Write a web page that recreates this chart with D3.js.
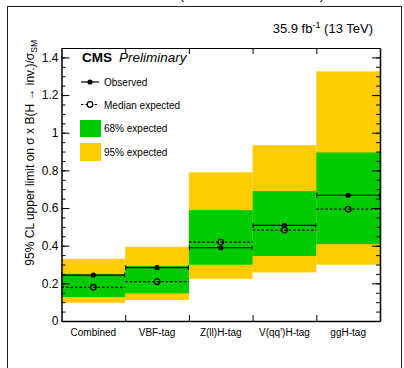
<!DOCTYPE html>
<html>
<head>
<meta charset="utf-8">
<script src="https://cdn.jsdelivr.net/npm/d3@7"></script>
<style>
  body { margin: 0; background: #fff; }
  svg { display: block; font-family: "Liberation Sans", Arial, sans-serif; }
</style>
</head>
<body>
<svg id="chart" width="404" height="368"></svg>
<script>
// categories and limits
var categories = ['Combined', 'VBF-tag', 'Z(ll)H-tag', "V(qq')H-tag", 'ggH-tag'];
var observed   = [0.244, 0.283, 0.389, 0.508, 0.668];
var expected   = [0.179, 0.209, 0.419, 0.483, 0.594];
var band68Lo   = [0.127, 0.147, 0.299, 0.345, 0.408];
var band68Hi   = [0.248, 0.292, 0.589, 0.690, 0.895];
var band95Lo   = [0.097, 0.111, 0.224, 0.258, 0.299];
var band95Hi   = [0.330, 0.394, 0.790, 0.934, 1.326];
var yTicks     = [0, 0.2, 0.4, 0.6, 0.8, 1, 1.2, 1.4];

(function() {
var svg = d3.select('#chart');

var pLeft = 61.5, pRight = 380, pTop = 48, pBottom = 321;

var x = d3.scaleBand().domain(categories).range([pLeft, pRight]).padding(0);
var xEdge = d3.scaleLinear().domain([0, categories.length]).range([pLeft, pRight]);
var y = d3.scaleLinear().domain([0, 1.45]).range([pBottom, pTop]);

// outer frame
svg.append('rect')
  .attr('x', 7.5).attr('y', 6.5)
  .attr('width', 394).attr('height', 380)
  .attr('fill', 'none').attr('stroke', '#222').attr('stroke-width', 1);

// cut off caption at the very top (only the bottoms of the brackets show)
svg.append('text')
  .attr('x', 252).attr('y', -1.2)
  .attr('text-anchor', 'middle')
  .style('font-size', '13.5px')
  .text('(CMS-PAS-HIG-17-023)');

var data = categories.map(function(c, i) {
  return { cat: c, obs: observed[i], exp: expected[i],
    lo68: band68Lo[i], hi68: band68Hi[i], lo95: band95Lo[i], hi95: band95Hi[i] };
});

// bands
svg.selectAll('.b95').data(data).enter().append('rect')
  .attr('class', 'b95')
  .attr('x', function(d) { return x(d.cat); })
  .attr('width', x.bandwidth())
  .attr('y', function(d) { return y(d.hi95); })
  .attr('height', function(d) { return y(d.lo95) - y(d.hi95); })
  .attr('fill', '#ffcc00');

svg.selectAll('.b68').data(data).enter().append('rect')
  .attr('class', 'b68')
  .attr('x', function(d) { return x(d.cat); })
  .attr('width', x.bandwidth())
  .attr('y', function(d) { return y(d.hi68); })
  .attr('height', function(d) { return y(d.lo68) - y(d.hi68); })
  .attr('fill', '#00cc00');

// expected: dashed line + open circle
svg.selectAll('.expl').data(data).enter().append('line')
  .attr('x1', function(d) { return x(d.cat); })
  .attr('x2', function(d) { return x(d.cat) + x.bandwidth(); })
  .attr('y1', function(d) { return y(d.exp); })
  .attr('y2', function(d) { return y(d.exp); })
  .attr('stroke', '#000').attr('stroke-width', 1.2)
  .attr('stroke-dasharray', '2.5,2');

// observed: solid line with end caps + filled circle
var obs = svg.selectAll('.obs').data(data).enter().append('g');
obs.append('line')
  .attr('x1', function(d) { return x(d.cat); })
  .attr('x2', function(d) { return x(d.cat) + x.bandwidth(); })
  .attr('y1', function(d) { return y(d.obs); })
  .attr('y2', function(d) { return y(d.obs); })
  .attr('stroke', '#000').attr('stroke-width', 1.2);
obs.append('line')
  .attr('x1', function(d) { return x(d.cat) + 0.5; })
  .attr('x2', function(d) { return x(d.cat) + 0.5; })
  .attr('y1', function(d) { return y(d.obs) - 2.5; })
  .attr('y2', function(d) { return y(d.obs) + 2.5; })
  .attr('stroke', '#000').attr('stroke-width', 1);
obs.append('line')
  .attr('x1', function(d) { return x(d.cat) + x.bandwidth() - 0.5; })
  .attr('x2', function(d) { return x(d.cat) + x.bandwidth() - 0.5; })
  .attr('y1', function(d) { return y(d.obs) - 2.5; })
  .attr('y2', function(d) { return y(d.obs) + 2.5; })
  .attr('stroke', '#000').attr('stroke-width', 1);

svg.selectAll('.expm').data(data).enter().append('circle')
  .attr('cx', function(d) { return x(d.cat) + x.bandwidth() / 2; })
  .attr('cy', function(d) { return y(d.exp); })
  .attr('r', 2.8)
  .attr('fill', 'none').attr('stroke', '#000').attr('stroke-width', 1.3);

obs.append('circle')
  .attr('cx', function(d) { return x(d.cat) + x.bandwidth() / 2; })
  .attr('cy', function(d) { return y(d.obs); })
  .attr('r', 2.6)
  .attr('fill', '#000');

// axes
var minor = d3.range(0, 1.451, 0.05);

svg.append('g')
  .attr('transform', 'translate(' + pLeft + ',0)')
  .call(d3.axisLeft(y).tickValues(minor).tickSize(-4).tickFormat(''))
  .call(function(g) { g.select('.domain').remove(); });
svg.append('g')
  .attr('transform', 'translate(' + pLeft + ',0)')
  .call(d3.axisLeft(y).tickValues(yTicks).tickSizeInner(-8).tickSizeOuter(0).tickPadding(3)
    .tickFormat(function(d) { return d3.format('~g')(d); }))
  .call(function(g) {
    g.selectAll('text').style('font-size', '12px').attr('fill', '#000');
    g.selectAll('line, path').attr('stroke', '#000');
    g.select('.domain').attr('stroke-width', 1.5);
  });

svg.append('g')
  .attr('transform', 'translate(' + pRight + ',0)')
  .call(d3.axisRight(y).tickValues(minor).tickSize(-4).tickFormat(''))
  .call(function(g) { g.select('.domain').remove(); });
svg.append('g')
  .attr('transform', 'translate(' + pRight + ',0)')
  .call(d3.axisRight(y).tickValues(yTicks).tickSizeInner(-8).tickSizeOuter(0).tickFormat(''))
  .call(function(g) { g.select('.domain').attr('stroke-width', 1.5); });

svg.append('g')
  .attr('transform', 'translate(0,' + pBottom + ')')
  .call(d3.axisBottom(xEdge).tickValues([1, 2, 3, 4]).tickSizeInner(-6).tickSizeOuter(0).tickFormat(''))
  .call(function(g) { g.select('.domain').attr('stroke-width', 1.5); });
svg.append('g')
  .attr('transform', 'translate(0,' + pTop + ')')
  .call(d3.axisTop(xEdge).tickValues([1, 2, 3, 4]).tickSizeInner(-6).tickSizeOuter(0).tickFormat(''));

svg.append('g')
  .attr('transform', 'translate(0,' + pBottom + ')')
  .call(d3.axisBottom(x).tickSize(0).tickPadding(8))
  .call(function(g) {
    g.select('.domain').remove();
    g.selectAll('text').style('font-size', '10px').attr('fill', '#000');
  });

// y title
var yt = svg.append('text')
  .attr('transform', 'translate(33.5,40) rotate(-90)')
  .attr('text-anchor', 'end')
  .style('font-size', '12px');
yt.append('tspan').text('95% CL upper limit on \u03c3 x B(H \u2192 inv.)/\u03c3');
yt.append('tspan').attr('dy', 3).style('font-size', '8.5px').text('SM');

// lumi
var lumi = svg.append('text')
  .attr('x', 373).attr('y', 33)
  .attr('text-anchor', 'end')
  .style('font-size', '13px');
lumi.append('tspan').text('35.9 fb');
lumi.append('tspan').attr('dy', -5).style('font-size', '9px').text('-1');
lumi.append('tspan').attr('dy', 5).text(' (13 TeV)');

// CMS Preliminary
svg.append('text').attr('x', 82).attr('y', 62)
  .style('font-size', '13.5px').style('font-weight', 'bold').text('CMS');
svg.append('text').attr('x', 119).attr('y', 62)
  .style('font-size', '13.5px').style('font-style', 'italic').text('Preliminary');

// legend
var legend = svg.append('g');
legend.append('line').attr('x1', 81).attr('x2', 99).attr('y1', 82).attr('y2', 82)
  .attr('stroke', '#000').attr('stroke-width', 1.2);
legend.append('circle').attr('cx', 90).attr('cy', 82).attr('r', 2.6).attr('fill', '#000');
legend.append('text').attr('x', 104).attr('y', 86).style('font-size', '10px').text('Observed');

legend.append('line').attr('x1', 81).attr('x2', 99).attr('y1', 104.5).attr('y2', 104.5)
  .attr('stroke', '#000').attr('stroke-width', 1.2).attr('stroke-dasharray', '2.5,2');
legend.append('circle').attr('cx', 90).attr('cy', 104.5).attr('r', 2.8)
  .attr('fill', '#fff').attr('stroke', '#000').attr('stroke-width', 1.3);
legend.append('text').attr('x', 104).attr('y', 108.5).style('font-size', '10px').text('Median expected');

legend.append('rect').attr('x', 80).attr('y', 120).attr('width', 21).attr('height', 17).attr('fill', '#00cc00');
legend.append('text').attr('x', 104).attr('y', 132).style('font-size', '10px').text('68% expected');

legend.append('rect').attr('x', 80).attr('y', 143).attr('width', 21).attr('height', 18).attr('fill', '#ffcc00');
legend.append('text').attr('x', 104).attr('y', 155.5).style('font-size', '10px').text('95% expected');
})();
</script>
</body>
</html>
